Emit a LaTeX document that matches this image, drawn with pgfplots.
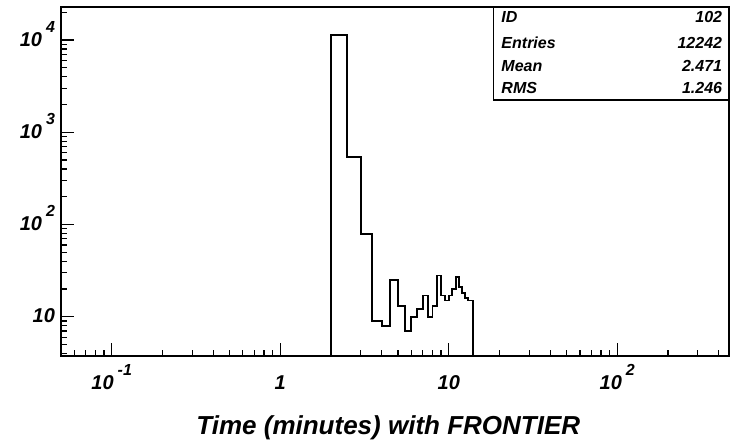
\documentclass[border=0pt]{standalone}
\usepackage{fontspec}
\setmainfont{Liberation Sans}
\usepackage{pgfplots}
\pgfplotsset{compat=1.18}

% ROOT-like label: mantissa with a detached exponent
\newcommand{\tl}[2]{#1\hspace{3pt}\raisebox{0.68em}{\fontsize{12}{12}\selectfont #2}}
\newcommand{\rootfont}{\bfseries\itshape}

\begin{document}
\begin{tikzpicture}[x=0.75pt,y=0.75pt]
% page = 732x444 px, axis box lower-left at px (61,356)
\path[use as bounding box] (-61,-88) rectangle (671,356);
\begin{axis}[
    at={(0,0)}, anchor=south west,
    scale only axis,
    width=501pt, height=261.75pt,
    xmode=log, ymode=log,
    xmin=0.05, xmax=460,
    ymin=3.75, ymax=22800,
    xtick={0.1,1,10,100},
    xticklabels={\tl{10}{-1},1,10,\tl{10}{2}},
    minor xtick={0.05,0.06,0.07,0.08,0.09,0.2,0.3,0.4,0.5,0.6,0.7,0.8,0.9,
                 2,3,4,5,6,7,8,9,20,30,40,50,60,70,80,90,200,300,400},
    ytick={10,100,1000,10000},
    yticklabels={10,\tl{10}{2},\tl{10}{3},\tl{10}{4}},
    minor ytick={4,5,6,7,8,9,20,30,40,50,60,70,80,90,200,300,400,500,600,700,800,900,
                 2000,3000,4000,5000,6000,7000,8000,9000,20000},
    tick align=inside,
    xtick pos=lower, ytick pos=left,
    major tick length=9.5pt, minor tick length=4.8pt,
    every tick/.style={black, line width=0.9pt},
    axis line style={line width=1.1pt},
    ticklabel style={font=\fontsize{15}{15}\selectfont\rootfont},
    xticklabel style={anchor=base, yshift=-25pt},
    yticklabel style={anchor=base east, yshift=-4.5pt, xshift=-1pt},
    xlabel={Time (minutes) with FRONTIER},
    every axis x label/.style={at={(rel axis cs:0.49,0)}, anchor=center, yshift=-54pt,
        font=\fontsize{19.5}{20}\selectfont\rootfont},
    clip=true,
]
% histogram, bins 0.5 min wide, coordinates at bin lower edges
\addplot[const plot mark left, black, line width=1.4pt, mark=none] coordinates {
    (2,0.1) (2,11300) (2.5,536) (3,78) (3.5,9) (4,8) (4.5,25) (5,13) (5.5,7)
    (6,10) (6.5,12) (7,17) (7.5,10) (8,13) (8.5,28) (9,17) (9.5,15) (10,17)
    (10.5,20) (11,27) (11.5,21) (12,18) (12.5,16) (13,15) (13.5,15) (14,15) (14,0.1)
};
% statistics box
\draw[line width=1pt, fill=white] (rel axis cs:0.647,1) rectangle (rel axis cs:1,0.734);
\begin{scope}[every node/.style={font=\fontsize{12}{12}\selectfont\rootfont, inner sep=0pt}]
\node[anchor=west] at (rel axis cs:0.659,0.971) {ID};
\node[anchor=east] at (rel axis cs:0.990,0.971) {102};
\node[anchor=west] at (rel axis cs:0.659,0.897) {Entries};
\node[anchor=east] at (rel axis cs:0.990,0.897) {12242};
\node[anchor=west] at (rel axis cs:0.659,0.830) {Mean};
\node[anchor=east] at (rel axis cs:0.990,0.830) {2.471};
\node[anchor=west] at (rel axis cs:0.659,0.768) {RMS};
\node[anchor=east] at (rel axis cs:0.990,0.768) {1.246};
\end{scope}
\end{axis}
\end{tikzpicture}
\end{document}
